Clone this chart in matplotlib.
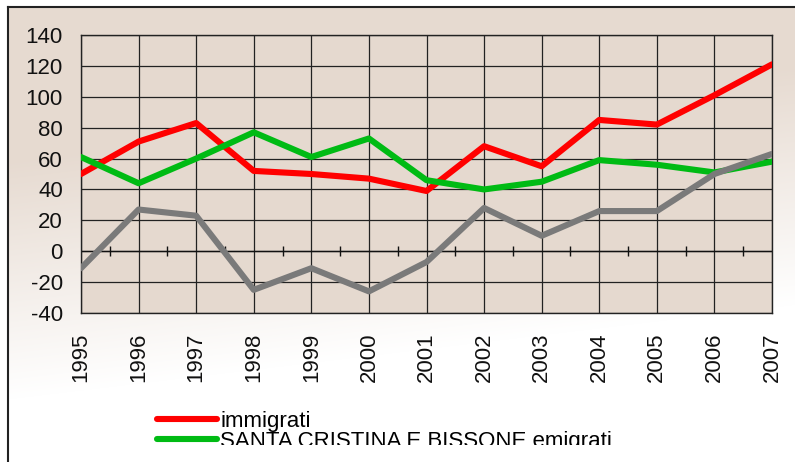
import numpy as np
import matplotlib
matplotlib.use("Agg")
import matplotlib.pyplot as plt
from matplotlib.lines import Line2D
from matplotlib.patches import Rectangle

years = ["1995", "1996", "1997", "1998", "1999", "2000", "2001",
         "2002", "2003", "2004", "2005", "2006", "2007"]
immigrati = [50, 71, 83, 52, 50, 47, 39, 68, 55, 85, 82, 101, 121]
emigrati = [61, 44, 60, 77, 61, 73, 46, 40, 45, 59, 56, 51, 58]
saldo = [-11, 27, 23, -25, -11, -26, -7, 28, 10, 26, 26, 50, 63]

BEIGE = np.array([0.902, 0.855, 0.816])
PLOT_BG = "#e5d9cf"

plt.rcParams["font.family"] = ["Liberation Sans", "DejaVu Sans"]
plt.rcParams["axes.unicode_minus"] = False

W, H = 795, 462
fig = plt.figure(figsize=(W / 100, H / 100), dpi=100)
fig.patch.set_facecolor("white")

# gradient background inside the outer frame
bg = fig.add_axes([0, 0, 1, 1], zorder=-10)
bg.set_axis_off()
yy, xx = np.mgrid[0:H, 0:W]
t = np.clip((yy + 0.12 * xx - 160) / 240.0, 0, 1)[..., None]
img = BEIGE * (1 - t) + 1.0 * t
img[:6, :, :] = 1.0
img[:, :7, :] = 1.0
bg.imshow(img, aspect="auto", extent=(0, W, H, 0))
bg.set_xlim(0, W)
bg.set_ylim(H, 0)

ax = fig.add_axes([81 / W, 1 - 313 / H, (772 - 81) / W, (313 - 35) / H])
ax.set_facecolor(PLOT_BG)

x = np.arange(len(years))
l1, = ax.plot(x, immigrati, color="#ff0000", lw=4.4, solid_capstyle="round",
              solid_joinstyle="round", label="immigrati", zorder=3)
l2, = ax.plot(x, emigrati, color="#00bb14", lw=4.4, solid_capstyle="round",
              solid_joinstyle="round", label="SANTA CRISTINA E BISSONE emigrati",
              zorder=3)
l3, = ax.plot(x, saldo, color="#7a7a7a", lw=4.4, solid_capstyle="round",
              solid_joinstyle="round", zorder=3)

ax.set_xlim(0, len(years) - 1)
ax.set_ylim(-40, 140)
ax.set_yticks(np.arange(-40, 141, 20))
ax.set_xticks(x)
ax.set_xticklabels(years, rotation=90, va="top", ha="center")
ax.tick_params(axis="both", length=0, labelsize=16, colors="#111111")
ax.tick_params(axis="y", pad=13)
ax.tick_params(axis="x", pad=14)
ax.grid(True, color="#222222", lw=0.9, zorder=1)
ax.set_axisbelow(True)
for s in ax.spines.values():
    s.set_color("#222222")
    s.set_linewidth(1.0)

# category axis crossing at zero with small ticks between years
ax.axhline(0, color="#111111", lw=1.0, zorder=1.5)
ax.plot(x[:-1] + 0.5, np.zeros(len(x) - 1), ls="none", marker="|",
        markersize=7, mew=1.0, color="#111111", zorder=1.5)

ax.legend(handles=[l1, l2], loc="upper left",
          bbox_to_anchor=(157 / W, 1 - 411 / H), bbox_transform=fig.transFigure,
          frameon=False, fontsize=16, handlelength=2.7, handletextpad=0.15,
          labelspacing=-0.05, borderpad=0, borderaxespad=0)

# bottom of the picture is cut off
fig.add_artist(Rectangle((8 / W, 0), 1, (H - 445) / H, transform=fig.transFigure,
                         facecolor="white", edgecolor="none", zorder=5))

# outer frame (left and top edges)
fig.add_artist(Line2D([7.5 / W, 7.5 / W], [0, 1 - 6.5 / H], transform=fig.transFigure,
                      color="#222222", lw=1.5, zorder=10))
fig.add_artist(Line2D([7.5 / W, 1], [1 - 6.5 / H, 1 - 6.5 / H], transform=fig.transFigure,
                      color="#222222", lw=1.5, zorder=10))

fig.savefig("out.png", dpi=100)
